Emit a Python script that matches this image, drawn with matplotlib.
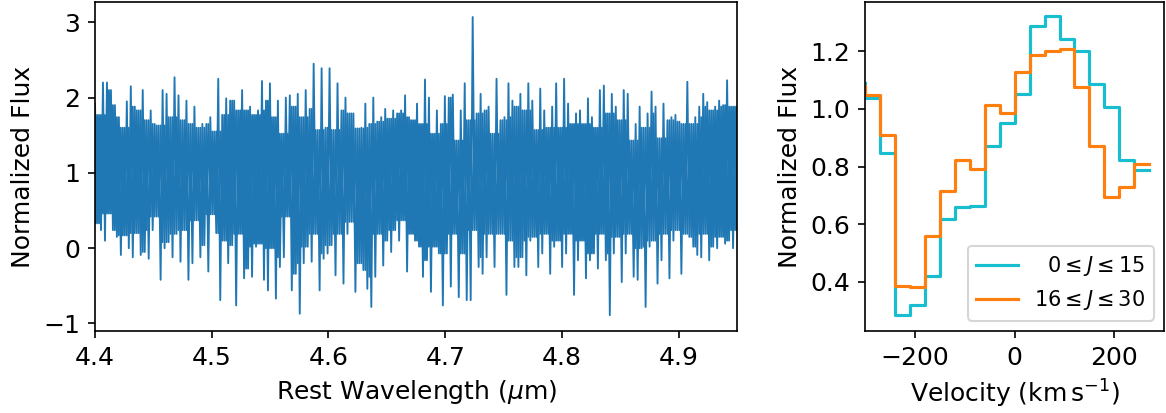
import numpy as np
import matplotlib.pyplot as plt

flux_hi = [
    1.92, 1.77, 2.20, 2.20, 2.10, 1.90, 1.74, 1.60, 1.95, 2.15, 1.88, 1.83, 2.10, 1.70, 1.83, 1.65,
    1.63, 2.10, 2.05, 1.74, 2.27, 2.03, 1.70, 1.96, 1.65, 1.88, 1.60, 1.65, 1.65, 1.74, 1.55, 2.25,
    1.77, 1.99, 1.96, 1.96, 1.83, 2.10, 1.83, 1.88, 1.77, 1.83, 2.22, 1.96, 2.19, 1.74, 1.96, 1.52,
    2.00, 2.03, 1.88, 2.05, 1.74, 2.10, 1.85, 2.45, 1.57, 2.39, 1.60, 2.39, 1.57, 2.19, 1.83, 2.00,
    1.79, 1.79, 1.59, 1.60, 1.92, 1.65, 2.00, 1.68, 1.74, 1.85, 1.72, 1.83, 1.79, 1.83, 2.03, 1.74,
    1.70, 1.92, 1.65, 2.24, 2.00, 1.52, 1.83, 1.65, 2.02, 2.00, 2.04, 1.43, 1.83, 2.19, 1.70, 3.07,
    1.79, 2.05, 1.83, 1.88, 1.52, 2.25, 1.70, 1.74, 2.19, 1.96, 1.88, 2.05, 1.83, 2.19, 1.96, 1.57,
    2.12, 1.83, 1.60, 1.88, 2.19, 1.60, 2.25, 1.92, 1.65, 1.79, 1.83, 1.65, 1.99, 1.74, 1.60, 2.10,
    2.16, 1.79, 2.05, 1.88, 1.70, 2.10, 2.05, 1.43, 1.65, 1.88, 1.60, 1.79, 2.08, 1.88, 1.46, 1.92,
    1.70, 1.74, 1.77, 1.68, 1.65, 2.21, 1.65, 1.74, 1.88, 2.05, 1.94, 1.83, 1.88, 1.96, 1.90, 2.23,
    1.88, 1.88,
]
flux_lo = [
    0.33, 0.24, 0.10, 0.46, 0.24, 0.15, -0.09, 0.17, 0.00, -0.12, 0.20, -0.09, -0.05, -0.14, 0.24, 0.42,
    -0.42, 0.00, 0.08, -0.12, 0.19, -0.18, 0.24, -0.42, -0.20, 0.37, -0.12, 0.04, -0.31, 0.45, 0.20, -0.69,
    0.10, -0.20, 0.04, -0.76, 0.19, -0.40, -0.27, -0.38, 0.02, 0.06, -0.42, -0.56, 0.00, -0.67, -0.25, -0.12,
    0.42, -0.56, -0.34, -0.87, -0.20, 0.02, -0.18, 0.19, -0.56, -0.14, -0.07, 0.04, -0.36, 0.19, -0.47, 0.19,
    0.35, -0.58, -0.20, -0.29, -0.54, -0.78, -0.38, 0.19, -0.23, 0.10, -0.05, 0.24, 0.10, 0.37, -0.31, 0.19,
    0.10, 0.02, -0.38, -0.16, -0.58, 0.02, -0.07, -0.76, -0.07, -0.51, 0.19, -0.65, -0.07, -0.69, -0.69, 0.24,
    -0.25, -0.34, -0.12, 0.19, -0.25, 0.19, 0.19, -0.62, 0.10, -0.25, -0.25, -0.12, -0.36, 0.10, 0.15, -0.25,
    -0.07, 0.19, -0.34, 0.02, 0.10, -0.25, -0.07, 0.19, -0.62, -0.16, 0.10, -0.40, -0.16, -0.07, -0.27, 0.19,
    -0.16, -0.89, -0.07, 0.15, -0.45, -0.07, 0.19, -0.38, -0.42, 0.00, -0.78, 0.02, 0.10, -0.47, -0.16, 0.19,
    -0.40, 0.10, 0.24, -0.34, 0.19, 0.15, 0.02, -0.09, -0.12, 0.19, -0.16, 0.02, 0.00, 0.15, 0.06, 0.10,
    0.00, 0.24,
]
wl_min, wl_max = 4.4, 4.95

# --- right panel: binned line profiles (bin edges in km/s) ---
vel_edges = np.arange(-300, 271, 30)
flux_lowJ = [1.09, 1.037, 0.848, 0.283, 0.319, 0.421, 0.616, 0.659, 0.662, 0.872,
             0.950, 1.051, 1.287, 1.324, 1.244, 1.200, 1.087, 1.008, 0.822, 0.787]
flux_highJ = [1.08, 1.049, 0.910, 0.383, 0.380, 0.560, 0.715, 0.824, 0.791, 1.013,
              0.985, 1.127, 1.188, 1.200, 1.208, 1.076, 0.872, 0.694, 0.729, 0.808]

plt.rcParams['font.size'] = 12

hi = np.array(flux_hi)
lo = np.array(flux_lo)
# zig-zag between upper and lower readings so the trace reaches each bin's extremes
spec = np.empty(2 * len(hi))
spec[0::2] = hi
spec[1::2] = lo
wl = np.linspace(wl_min, wl_max, len(spec))

# the dense core of the band: range shared by neighbouring bins, traced the other way round
hp = np.pad(hi, 1, mode='edge')
lp = np.pad(lo, 1, mode='edge')
core_hi = np.minimum(np.minimum(hp[:-2], hp[1:-1]), hp[2:])
core_lo = np.maximum(np.maximum(lp[:-2], lp[1:-1]), lp[2:])
core = np.empty_like(spec)
core[0::2] = core_lo
core[1::2] = core_hi

fig = plt.figure(figsize=(1166 / 150, 413 / 150), dpi=150)
ax1 = fig.add_axes([0.0815, 0.1985, 0.5506, 0.7967])
ax2 = fig.add_axes([0.7419, 0.1985, 0.2566, 0.7967])

blue = '#1f77b4'
ax1.plot(wl, core, color=blue, lw=0.9)
ax1.plot(wl, spec, color=blue, lw=0.9)
ax1.set_xlim(wl_min, wl_max)
ax1.set_ylim(-1.1, 3.27)
ax1.set_xlabel(r'Rest Wavelength ($\mu$m)')
ax1.set_ylabel('Normalized Flux')

ax2.step(vel_edges, flux_lowJ, where='pre', color='#17becf', lw=1.5, label=r'$\ \ 0 \leq J \leq 15$')
ax2.step(vel_edges, flux_highJ, where='pre', color='#ff7f0e', lw=1.5, label=r'$16 \leq J \leq 30$')
ax2.set_xlim(-300, 300)
ax2.set_ylim(0.228, 1.372)
ax2.set_xlabel(r'Velocity (km$\,$s$^{-1}$)')
ax2.set_ylabel('Normalized Flux')
ax2.legend(loc='lower right', fontsize=10)

fig.savefig('out.png', dpi=150)
